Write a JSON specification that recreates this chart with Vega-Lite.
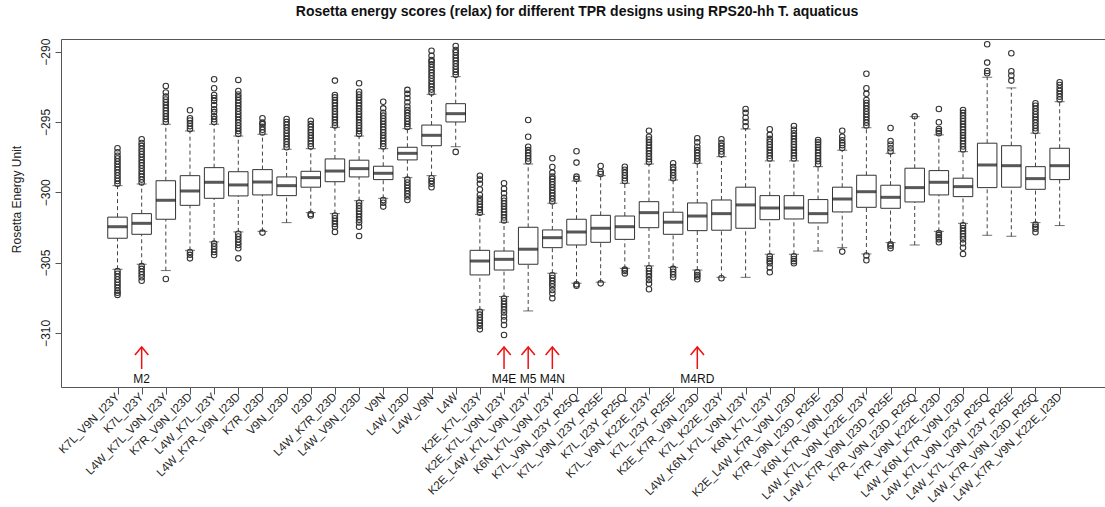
{
  "$schema": "https://vega.github.io/schema/vega-lite/v6.json",
  "width": 1044,
  "height": 348,
  "autosize": {"type": "none"},
  "padding": {"left": 61, "top": 39, "right": 0, "bottom": 120},
  "background": "white",
  "title": {"text": "Rosetta energy scores (relax) for different TPR designs using RPS20-hh T. aquaticus", "fontSize": 14, "fontWeight": "bold", "font": "Liberation Sans", "color": "#111", "anchor": "middle", "dx": -6, "offset": 19},
  "config": {"view": {"stroke": null}, "font": "Liberation Sans"},
  "resolve": {"axis": {"x": "independent", "y": "independent"}},
  "datasets": {
    "boxes": [
      {"i": 1, "name": "K7L_V9N_I23Y", "lo": -305.48, "q1": -303.27, "med": -302.45, "q3": -301.77, "hi": -299.53},
      {"i": 2, "name": "K7L_I23Y", "lo": -305.12, "q1": -302.99, "med": -302.21, "q3": -301.52, "hi": -299.41},
      {"i": 3, "name": "L4W_K7L_V9N_I23Y", "lo": -305.57, "q1": -301.92, "med": -300.57, "q3": -299.18, "hi": -295.16},
      {"i": 4, "name": "K7R_V9N_I23D", "lo": -304.13, "q1": -300.93, "med": -299.91, "q3": -298.82, "hi": -295.64},
      {"i": 5, "name": "L4W_K7L_I23Y", "lo": -303.53, "q1": -300.43, "med": -299.29, "q3": -298.25, "hi": -295.16},
      {"i": 6, "name": "L4W_K7R_V9N_I23D", "lo": -302.82, "q1": -300.26, "med": -299.48, "q3": -298.54, "hi": -296.0},
      {"i": 7, "name": "K7R_I23D", "lo": -302.78, "q1": -300.19, "med": -299.27, "q3": -298.39, "hi": -295.87},
      {"i": 8, "name": "V9N_I23D", "lo": -302.16, "q1": -300.24, "med": -299.53, "q3": -298.91, "hi": -296.94},
      {"i": 9, "name": "I23D", "lo": -301.45, "q1": -299.64, "med": -298.96, "q3": -298.51, "hi": -296.9},
      {"i": 10, "name": "L4W_K7R_I23D", "lo": -301.52, "q1": -299.25, "med": -298.49, "q3": -297.63, "hi": -295.38},
      {"i": 11, "name": "L4W_V9N_I23D", "lo": -300.6, "q1": -298.91, "med": -298.32, "q3": -297.72, "hi": -296.0},
      {"i": 12, "name": "V9N", "lo": -300.43, "q1": -299.1, "med": -298.65, "q3": -298.15, "hi": -296.9},
      {"i": 13, "name": "L4W_I23D", "lo": -298.96, "q1": -297.7, "med": -297.23, "q3": -296.8, "hi": -295.48},
      {"i": 14, "name": "L4W_V9N", "lo": -298.82, "q1": -296.69, "med": -295.95, "q3": -295.22, "hi": -293.03},
      {"i": 15, "name": "L4W", "lo": -296.76, "q1": -295.0, "med": -294.41, "q3": -293.7, "hi": -291.78},
      {"i": 16, "name": "K2E_K7L_I23Y", "lo": -308.37, "q1": -305.88, "med": -304.89, "q3": -304.13, "hi": -301.57},
      {"i": 17, "name": "K2E_K7L_V9N_I23Y", "lo": -307.42, "q1": -305.53, "med": -304.77, "q3": -304.18, "hi": -302.13},
      {"i": 18, "name": "K2E_L4W_K7L_V9N_I23Y", "lo": -308.44, "q1": -305.12, "med": -304.05, "q3": -302.49, "hi": -297.99},
      {"i": 19, "name": "K6N_K7L_V9N_I23Y", "lo": -305.76, "q1": -303.94, "med": -303.23, "q3": -302.68, "hi": -300.78},
      {"i": 20, "name": "K7L_V9N_I23Y_R25Q", "lo": -306.47, "q1": -303.75, "med": -302.82, "q3": -301.92, "hi": -299.2},
      {"i": 21, "name": "K7L_V9N_I23Y_R25E", "lo": -306.4, "q1": -303.56, "med": -302.56, "q3": -301.64, "hi": -298.82},
      {"i": 22, "name": "K7L_I23Y_R25Q", "lo": -305.41, "q1": -303.35, "med": -302.45, "q3": -301.69, "hi": -299.36},
      {"i": 23, "name": "K7L_V9N_K22E_I23Y", "lo": -305.24, "q1": -302.52, "med": -301.45, "q3": -300.67, "hi": -297.99},
      {"i": 24, "name": "K7L_I23Y_R25E", "lo": -305.34, "q1": -302.99, "med": -302.13, "q3": -301.42, "hi": -299.13},
      {"i": 25, "name": "K2E_K7R_V9N_I23D", "lo": -305.53, "q1": -302.73, "med": -301.69, "q3": -300.76, "hi": -297.94},
      {"i": 26, "name": "K7L_K22E_I23Y", "lo": -306.05, "q1": -302.7, "med": -301.52, "q3": -300.55, "hi": -297.47},
      {"i": 27, "name": "L4W_K6N_K7L_V9N_I23Y", "lo": -306.05, "q1": -302.56, "med": -300.9, "q3": -299.64, "hi": -295.5},
      {"i": 28, "name": "K6N_K7L_I23Y", "lo": -304.41, "q1": -301.95, "med": -301.12, "q3": -300.24, "hi": -297.77},
      {"i": 29, "name": "K2E_L4W_K7R_V9N_I23D", "lo": -304.41, "q1": -301.9, "med": -301.12, "q3": -300.24, "hi": -297.77},
      {"i": 30, "name": "K7R_V9N_I23D_R25E", "lo": -304.18, "q1": -302.18, "med": -301.52, "q3": -300.52, "hi": -298.18},
      {"i": 31, "name": "K6N_K7R_V9N_I23D", "lo": -303.94, "q1": -301.4, "med": -300.48, "q3": -299.64, "hi": -297.01},
      {"i": 32, "name": "L4W_K7L_V9N_K22E_I23Y", "lo": -304.39, "q1": -301.07, "med": -299.96, "q3": -298.79, "hi": -295.41},
      {"i": 33, "name": "L4W_K7R_V9N_I23D_R25E", "lo": -303.58, "q1": -301.14, "med": -300.36, "q3": -299.5, "hi": -297.23},
      {"i": 34, "name": "K7R_V9N_I23D_R25Q", "lo": -303.75, "q1": -300.69, "med": -299.67, "q3": -298.29, "hi": -294.62},
      {"i": 35, "name": "K7R_V9N_K22E_I23D", "lo": -302.78, "q1": -300.19, "med": -299.29, "q3": -298.46, "hi": -295.92},
      {"i": 36, "name": "L4W_K6N_K7R_V9N_I23D", "lo": -302.21, "q1": -300.31, "med": -299.6, "q3": -299.0, "hi": -297.11},
      {"i": 37, "name": "L4W_K7L_V9N_I23Y_R25Q", "lo": -303.06, "q1": -299.67, "med": -298.06, "q3": -296.51, "hi": -291.82},
      {"i": 38, "name": "L4W_K7L_V9N_I23Y_R25E", "lo": -303.13, "q1": -299.64, "med": -298.11, "q3": -296.69, "hi": -292.58},
      {"i": 39, "name": "L4W_K7R_V9N_I23D_R25Q", "lo": -302.16, "q1": -299.79, "med": -299.03, "q3": -298.18, "hi": -295.8},
      {"i": 40, "name": "L4W_K7R_V9N_K22E_I23D", "lo": -302.37, "q1": -299.1, "med": -298.11, "q3": -296.87, "hi": -293.56}
    ],
    "outliers": [
      {"n":"K7L_V9N_I23Y","v":-299.4},{"n":"K7L_V9N_I23Y","v":-299.2},{"n":"K7L_V9N_I23Y","v":-299.0},{"n":"K7L_V9N_I23Y","v":-298.8},{"n":"K7L_V9N_I23Y","v":-298.6},{"n":"K7L_V9N_I23Y","v":-298.4},{"n":"K7L_V9N_I23Y","v":-298.2},{"n":"K7L_V9N_I23Y","v":-298.0},{"n":"K7L_V9N_I23Y","v":-297.8},{"n":"K7L_V9N_I23Y","v":-297.6},{"n":"K7L_V9N_I23Y","v":-297.4},{"n":"K7L_V9N_I23Y","v":-297.15},{"n":"K7L_V9N_I23Y","v":-296.87},
      {"n":"K7L_V9N_I23Y","v":-305.6},{"n":"K7L_V9N_I23Y","v":-305.8},{"n":"K7L_V9N_I23Y","v":-306.0},{"n":"K7L_V9N_I23Y","v":-306.2},{"n":"K7L_V9N_I23Y","v":-306.4},{"n":"K7L_V9N_I23Y","v":-306.6},{"n":"K7L_V9N_I23Y","v":-306.8},{"n":"K7L_V9N_I23Y","v":-307.0},{"n":"K7L_V9N_I23Y","v":-307.15},{"n":"K7L_V9N_I23Y","v":-307.3},
      {"n":"K7L_I23Y","v":-299.3},{"n":"K7L_I23Y","v":-299.1},{"n":"K7L_I23Y","v":-298.9},{"n":"K7L_I23Y","v":-298.7},{"n":"K7L_I23Y","v":-298.5},{"n":"K7L_I23Y","v":-298.3},{"n":"K7L_I23Y","v":-298.1},{"n":"K7L_I23Y","v":-297.9},{"n":"K7L_I23Y","v":-297.7},{"n":"K7L_I23Y","v":-297.5},{"n":"K7L_I23Y","v":-297.3},{"n":"K7L_I23Y","v":-297.1},{"n":"K7L_I23Y","v":-296.9},{"n":"K7L_I23Y","v":-296.7},{"n":"K7L_I23Y","v":-296.5},{"n":"K7L_I23Y","v":-296.23},
      {"n":"K7L_I23Y","v":-305.25},{"n":"K7L_I23Y","v":-305.45},{"n":"K7L_I23Y","v":-305.65},{"n":"K7L_I23Y","v":-305.85},{"n":"K7L_I23Y","v":-306.05},{"n":"K7L_I23Y","v":-306.29},
      {"n":"L4W_K7L_V9N_I23Y","v":-295.0},{"n":"L4W_K7L_V9N_I23Y","v":-294.8},{"n":"L4W_K7L_V9N_I23Y","v":-294.6},{"n":"L4W_K7L_V9N_I23Y","v":-294.4},{"n":"L4W_K7L_V9N_I23Y","v":-294.2},{"n":"L4W_K7L_V9N_I23Y","v":-294.0},{"n":"L4W_K7L_V9N_I23Y","v":-293.8},{"n":"L4W_K7L_V9N_I23Y","v":-293.6},{"n":"L4W_K7L_V9N_I23Y","v":-293.4},{"n":"L4W_K7L_V9N_I23Y","v":-293.2},{"n":"L4W_K7L_V9N_I23Y","v":-292.9},{"n":"L4W_K7L_V9N_I23Y","v":-292.44},{"n":"L4W_K7L_V9N_I23Y","v":-306.17},
      {"n":"K7R_V9N_I23D","v":-295.5},{"n":"K7R_V9N_I23D","v":-295.3},{"n":"K7R_V9N_I23D","v":-295.1},{"n":"K7R_V9N_I23D","v":-294.9},{"n":"K7R_V9N_I23D","v":-294.74},{"n":"K7R_V9N_I23D","v":-294.17},{"n":"K7R_V9N_I23D","v":-304.25},{"n":"K7R_V9N_I23D","v":-304.45},{"n":"K7R_V9N_I23D","v":-304.7},
      {"n":"L4W_K7L_I23Y","v":-295.0},{"n":"L4W_K7L_I23Y","v":-294.8},{"n":"L4W_K7L_I23Y","v":-294.6},{"n":"L4W_K7L_I23Y","v":-294.3},{"n":"L4W_K7L_I23Y","v":-294.1},{"n":"L4W_K7L_I23Y","v":-293.8},{"n":"L4W_K7L_I23Y","v":-293.5},{"n":"L4W_K7L_I23Y","v":-293.3},{"n":"L4W_K7L_I23Y","v":-293.08},{"n":"L4W_K7L_I23Y","v":-292.6},{"n":"L4W_K7L_I23Y","v":-291.96},
      {"n":"L4W_K7L_I23Y","v":-303.65},{"n":"L4W_K7L_I23Y","v":-303.85},{"n":"L4W_K7L_I23Y","v":-304.05},{"n":"L4W_K7L_I23Y","v":-304.25},{"n":"L4W_K7L_I23Y","v":-304.46},
      {"n":"L4W_K7R_V9N_I23D","v":-295.85},{"n":"L4W_K7R_V9N_I23D","v":-295.65},{"n":"L4W_K7R_V9N_I23D","v":-295.45},{"n":"L4W_K7R_V9N_I23D","v":-295.25},{"n":"L4W_K7R_V9N_I23D","v":-295.05},{"n":"L4W_K7R_V9N_I23D","v":-294.85},{"n":"L4W_K7R_V9N_I23D","v":-294.65},{"n":"L4W_K7R_V9N_I23D","v":-294.45},{"n":"L4W_K7R_V9N_I23D","v":-294.25},{"n":"L4W_K7R_V9N_I23D","v":-294.05},{"n":"L4W_K7R_V9N_I23D","v":-293.85},{"n":"L4W_K7R_V9N_I23D","v":-293.65},{"n":"L4W_K7R_V9N_I23D","v":-293.45},{"n":"L4W_K7R_V9N_I23D","v":-293.25},{"n":"L4W_K7R_V9N_I23D","v":-293.05},{"n":"L4W_K7R_V9N_I23D","v":-292.8},{"n":"L4W_K7R_V9N_I23D","v":-292.01},
      {"n":"L4W_K7R_V9N_I23D","v":-302.95},{"n":"L4W_K7R_V9N_I23D","v":-303.15},{"n":"L4W_K7R_V9N_I23D","v":-303.35},{"n":"L4W_K7R_V9N_I23D","v":-303.55},{"n":"L4W_K7R_V9N_I23D","v":-303.75},{"n":"L4W_K7R_V9N_I23D","v":-303.98},{"n":"L4W_K7R_V9N_I23D","v":-304.7},
      {"n":"K7R_I23D","v":-295.75},{"n":"K7R_I23D","v":-295.55},{"n":"K7R_I23D","v":-295.35},{"n":"K7R_I23D","v":-295.15},{"n":"K7R_I23D","v":-295.05},{"n":"K7R_I23D","v":-294.74},{"n":"K7R_I23D","v":-302.87},
      {"n":"V9N_I23D","v":-296.8},{"n":"V9N_I23D","v":-296.6},{"n":"V9N_I23D","v":-296.4},{"n":"V9N_I23D","v":-296.2},{"n":"V9N_I23D","v":-296.0},{"n":"V9N_I23D","v":-295.8},{"n":"V9N_I23D","v":-295.6},{"n":"V9N_I23D","v":-295.4},{"n":"V9N_I23D","v":-295.2},{"n":"V9N_I23D","v":-295.0},{"n":"V9N_I23D","v":-294.79},
      {"n":"I23D","v":-296.75},{"n":"I23D","v":-296.55},{"n":"I23D","v":-296.35},{"n":"I23D","v":-296.15},{"n":"I23D","v":-295.95},{"n":"I23D","v":-295.75},{"n":"I23D","v":-295.55},{"n":"I23D","v":-295.35},{"n":"I23D","v":-295.15},{"n":"I23D","v":-294.91},{"n":"I23D","v":-301.55},{"n":"I23D","v":-301.65},
      {"n":"L4W_K7R_I23D","v":-295.25},{"n":"L4W_K7R_I23D","v":-295.05},{"n":"L4W_K7R_I23D","v":-294.85},{"n":"L4W_K7R_I23D","v":-294.65},{"n":"L4W_K7R_I23D","v":-294.45},{"n":"L4W_K7R_I23D","v":-294.25},{"n":"L4W_K7R_I23D","v":-294.05},{"n":"L4W_K7R_I23D","v":-293.85},{"n":"L4W_K7R_I23D","v":-293.65},{"n":"L4W_K7R_I23D","v":-293.45},{"n":"L4W_K7R_I23D","v":-293.25},{"n":"L4W_K7R_I23D","v":-293.08},{"n":"L4W_K7R_I23D","v":-292.06},
      {"n":"L4W_K7R_I23D","v":-301.65},{"n":"L4W_K7R_I23D","v":-301.85},{"n":"L4W_K7R_I23D","v":-302.05},{"n":"L4W_K7R_I23D","v":-302.25},{"n":"L4W_K7R_I23D","v":-302.45},{"n":"L4W_K7R_I23D","v":-302.82},
      {"n":"L4W_V9N_I23D","v":-295.85},{"n":"L4W_V9N_I23D","v":-295.65},{"n":"L4W_V9N_I23D","v":-295.45},{"n":"L4W_V9N_I23D","v":-295.25},{"n":"L4W_V9N_I23D","v":-295.05},{"n":"L4W_V9N_I23D","v":-294.85},{"n":"L4W_V9N_I23D","v":-294.65},{"n":"L4W_V9N_I23D","v":-294.45},{"n":"L4W_V9N_I23D","v":-294.25},{"n":"L4W_V9N_I23D","v":-294.05},{"n":"L4W_V9N_I23D","v":-293.85},{"n":"L4W_V9N_I23D","v":-293.65},{"n":"L4W_V9N_I23D","v":-293.45},{"n":"L4W_V9N_I23D","v":-293.25},{"n":"L4W_V9N_I23D","v":-293.05},{"n":"L4W_V9N_I23D","v":-292.85},{"n":"L4W_V9N_I23D","v":-292.25},
      {"n":"L4W_V9N_I23D","v":-300.75},{"n":"L4W_V9N_I23D","v":-300.95},{"n":"L4W_V9N_I23D","v":-301.15},{"n":"L4W_V9N_I23D","v":-301.35},{"n":"L4W_V9N_I23D","v":-301.55},{"n":"L4W_V9N_I23D","v":-301.75},{"n":"L4W_V9N_I23D","v":-301.95},{"n":"L4W_V9N_I23D","v":-302.15},{"n":"L4W_V9N_I23D","v":-302.45},{"n":"L4W_V9N_I23D","v":-303.11},
      {"n":"V9N","v":-296.75},{"n":"V9N","v":-296.55},{"n":"V9N","v":-296.35},{"n":"V9N","v":-296.15},{"n":"V9N","v":-295.95},{"n":"V9N","v":-295.75},{"n":"V9N","v":-295.55},{"n":"V9N","v":-295.35},{"n":"V9N","v":-295.15},{"n":"V9N","v":-294.95},{"n":"V9N","v":-294.75},{"n":"V9N","v":-294.55},{"n":"V9N","v":-294.35},{"n":"V9N","v":-294.03},{"n":"V9N","v":-293.56},{"n":"V9N","v":-300.55},{"n":"V9N","v":-300.75},{"n":"V9N","v":-301.02},
      {"n":"L4W_I23D","v":-295.35},{"n":"L4W_I23D","v":-295.15},{"n":"L4W_I23D","v":-294.95},{"n":"L4W_I23D","v":-294.75},{"n":"L4W_I23D","v":-294.55},{"n":"L4W_I23D","v":-294.35},{"n":"L4W_I23D","v":-294.15},{"n":"L4W_I23D","v":-293.9},{"n":"L4W_I23D","v":-293.6},{"n":"L4W_I23D","v":-293.3},{"n":"L4W_I23D","v":-293.0},{"n":"L4W_I23D","v":-292.72},
      {"n":"L4W_I23D","v":-299.1},{"n":"L4W_I23D","v":-299.3},{"n":"L4W_I23D","v":-299.5},{"n":"L4W_I23D","v":-299.7},{"n":"L4W_I23D","v":-299.9},{"n":"L4W_I23D","v":-300.1},{"n":"L4W_I23D","v":-300.3},{"n":"L4W_I23D","v":-300.55},
      {"n":"L4W_V9N","v":-292.9},{"n":"L4W_V9N","v":-292.7},{"n":"L4W_V9N","v":-292.5},{"n":"L4W_V9N","v":-292.3},{"n":"L4W_V9N","v":-292.1},{"n":"L4W_V9N","v":-291.9},{"n":"L4W_V9N","v":-291.7},{"n":"L4W_V9N","v":-291.5},{"n":"L4W_V9N","v":-291.3},{"n":"L4W_V9N","v":-291.1},{"n":"L4W_V9N","v":-290.9},{"n":"L4W_V9N","v":-290.7},{"n":"L4W_V9N","v":-290.59},{"n":"L4W_V9N","v":-290.3},{"n":"L4W_V9N","v":-289.93},
      {"n":"L4W_V9N","v":-299.0},{"n":"L4W_V9N","v":-299.2},{"n":"L4W_V9N","v":-299.4},{"n":"L4W_V9N","v":-299.64},
      {"n":"L4W","v":-291.65},{"n":"L4W","v":-291.45},{"n":"L4W","v":-291.25},{"n":"L4W","v":-291.05},{"n":"L4W","v":-290.85},{"n":"L4W","v":-290.65},{"n":"L4W","v":-290.45},{"n":"L4W","v":-290.25},{"n":"L4W","v":-290.05},{"n":"L4W","v":-289.88},{"n":"L4W","v":-289.6},{"n":"L4W","v":-297.13},
      {"n":"K2E_K7L_I23Y","v":-301.45},{"n":"K2E_K7L_I23Y","v":-301.25},{"n":"K2E_K7L_I23Y","v":-301.05},{"n":"K2E_K7L_I23Y","v":-300.85},{"n":"K2E_K7L_I23Y","v":-300.65},{"n":"K2E_K7L_I23Y","v":-300.45},{"n":"K2E_K7L_I23Y","v":-300.19},{"n":"K2E_K7L_I23Y","v":-299.8},{"n":"K2E_K7L_I23Y","v":-299.4},{"n":"K2E_K7L_I23Y","v":-299.1},{"n":"K2E_K7L_I23Y","v":-298.82},
      {"n":"K2E_K7L_I23Y","v":-308.5},{"n":"K2E_K7L_I23Y","v":-308.7},{"n":"K2E_K7L_I23Y","v":-308.9},{"n":"K2E_K7L_I23Y","v":-309.1},{"n":"K2E_K7L_I23Y","v":-309.3},{"n":"K2E_K7L_I23Y","v":-309.5},{"n":"K2E_K7L_I23Y","v":-309.75},
      {"n":"K2E_K7L_V9N_I23Y","v":-302.0},{"n":"K2E_K7L_V9N_I23Y","v":-301.8},{"n":"K2E_K7L_V9N_I23Y","v":-301.6},{"n":"K2E_K7L_V9N_I23Y","v":-301.4},{"n":"K2E_K7L_V9N_I23Y","v":-301.2},{"n":"K2E_K7L_V9N_I23Y","v":-301.0},{"n":"K2E_K7L_V9N_I23Y","v":-300.8},{"n":"K2E_K7L_V9N_I23Y","v":-300.6},{"n":"K2E_K7L_V9N_I23Y","v":-300.4},{"n":"K2E_K7L_V9N_I23Y","v":-300.07},{"n":"K2E_K7L_V9N_I23Y","v":-299.75},{"n":"K2E_K7L_V9N_I23Y","v":-299.36},
      {"n":"K2E_K7L_V9N_I23Y","v":-307.55},{"n":"K2E_K7L_V9N_I23Y","v":-307.75},{"n":"K2E_K7L_V9N_I23Y","v":-307.95},{"n":"K2E_K7L_V9N_I23Y","v":-308.15},{"n":"K2E_K7L_V9N_I23Y","v":-308.35},{"n":"K2E_K7L_V9N_I23Y","v":-308.55},{"n":"K2E_K7L_V9N_I23Y","v":-308.84},{"n":"K2E_K7L_V9N_I23Y","v":-309.1},{"n":"K2E_K7L_V9N_I23Y","v":-309.44},{"n":"K2E_K7L_V9N_I23Y","v":-310.15},
      {"n":"K2E_L4W_K7L_V9N_I23Y","v":-297.8},{"n":"K2E_L4W_K7L_V9N_I23Y","v":-297.6},{"n":"K2E_L4W_K7L_V9N_I23Y","v":-297.4},{"n":"K2E_L4W_K7L_V9N_I23Y","v":-297.2},{"n":"K2E_L4W_K7L_V9N_I23Y","v":-297.0},{"n":"K2E_L4W_K7L_V9N_I23Y","v":-296.76},{"n":"K2E_L4W_K7L_V9N_I23Y","v":-296.05},{"n":"K2E_L4W_K7L_V9N_I23Y","v":-294.86},
      {"n":"K6N_K7L_V9N_I23Y","v":-300.65},{"n":"K6N_K7L_V9N_I23Y","v":-300.45},{"n":"K6N_K7L_V9N_I23Y","v":-300.25},{"n":"K6N_K7L_V9N_I23Y","v":-300.05},{"n":"K6N_K7L_V9N_I23Y","v":-299.85},{"n":"K6N_K7L_V9N_I23Y","v":-299.65},{"n":"K6N_K7L_V9N_I23Y","v":-299.45},{"n":"K6N_K7L_V9N_I23Y","v":-299.25},{"n":"K6N_K7L_V9N_I23Y","v":-299.05},{"n":"K6N_K7L_V9N_I23Y","v":-298.89},{"n":"K6N_K7L_V9N_I23Y","v":-298.6},{"n":"K6N_K7L_V9N_I23Y","v":-298.2},{"n":"K6N_K7L_V9N_I23Y","v":-297.58},
      {"n":"K6N_K7L_V9N_I23Y","v":-305.9},{"n":"K6N_K7L_V9N_I23Y","v":-306.1},{"n":"K6N_K7L_V9N_I23Y","v":-306.3},{"n":"K6N_K7L_V9N_I23Y","v":-306.5},{"n":"K6N_K7L_V9N_I23Y","v":-306.7},{"n":"K6N_K7L_V9N_I23Y","v":-306.95},{"n":"K6N_K7L_V9N_I23Y","v":-307.2},{"n":"K6N_K7L_V9N_I23Y","v":-307.54},
      {"n":"K7L_V9N_I23Y_R25Q","v":-299.05},{"n":"K7L_V9N_I23Y_R25Q","v":-298.89},{"n":"K7L_V9N_I23Y_R25Q","v":-297.89},{"n":"K7L_V9N_I23Y_R25Q","v":-297.08},{"n":"K7L_V9N_I23Y_R25Q","v":-306.55},{"n":"K7L_V9N_I23Y_R25Q","v":-306.65},
      {"n":"K7L_V9N_I23Y_R25E","v":-298.7},{"n":"K7L_V9N_I23Y_R25E","v":-298.54},{"n":"K7L_V9N_I23Y_R25E","v":-298.13},{"n":"K7L_V9N_I23Y_R25E","v":-306.48},
      {"n":"K7L_I23Y_R25Q","v":-299.2},{"n":"K7L_I23Y_R25Q","v":-299.0},{"n":"K7L_I23Y_R25Q","v":-298.8},{"n":"K7L_I23Y_R25Q","v":-298.6},{"n":"K7L_I23Y_R25Q","v":-298.4},{"n":"K7L_I23Y_R25Q","v":-298.18},{"n":"K7L_I23Y_R25Q","v":-305.5},{"n":"K7L_I23Y_R25Q","v":-305.6},{"n":"K7L_I23Y_R25Q","v":-305.77},
      {"n":"K7L_V9N_K22E_I23Y","v":-297.85},{"n":"K7L_V9N_K22E_I23Y","v":-297.65},{"n":"K7L_V9N_K22E_I23Y","v":-297.45},{"n":"K7L_V9N_K22E_I23Y","v":-297.25},{"n":"K7L_V9N_K22E_I23Y","v":-297.05},{"n":"K7L_V9N_K22E_I23Y","v":-296.85},{"n":"K7L_V9N_K22E_I23Y","v":-296.65},{"n":"K7L_V9N_K22E_I23Y","v":-296.45},{"n":"K7L_V9N_K22E_I23Y","v":-296.25},{"n":"K7L_V9N_K22E_I23Y","v":-296.05},{"n":"K7L_V9N_K22E_I23Y","v":-295.62},
      {"n":"K7L_V9N_K22E_I23Y","v":-305.4},{"n":"K7L_V9N_K22E_I23Y","v":-305.6},{"n":"K7L_V9N_K22E_I23Y","v":-305.8},{"n":"K7L_V9N_K22E_I23Y","v":-306.0},{"n":"K7L_V9N_K22E_I23Y","v":-306.24},{"n":"K7L_V9N_K22E_I23Y","v":-306.5},{"n":"K7L_V9N_K22E_I23Y","v":-306.9},
      {"n":"K7L_I23Y_R25E","v":-299.0},{"n":"K7L_I23Y_R25E","v":-298.8},{"n":"K7L_I23Y_R25E","v":-298.6},{"n":"K7L_I23Y_R25E","v":-298.4},{"n":"K7L_I23Y_R25E","v":-298.2},{"n":"K7L_I23Y_R25E","v":-297.94},{"n":"K7L_I23Y_R25E","v":-305.45},{"n":"K7L_I23Y_R25E","v":-305.65},{"n":"K7L_I23Y_R25E","v":-305.85},{"n":"K7L_I23Y_R25E","v":-306.05},
      {"n":"K2E_K7R_V9N_I23D","v":-297.8},{"n":"K2E_K7R_V9N_I23D","v":-297.6},{"n":"K2E_K7R_V9N_I23D","v":-297.4},{"n":"K2E_K7R_V9N_I23D","v":-297.2},{"n":"K2E_K7R_V9N_I23D","v":-297.0},{"n":"K2E_K7R_V9N_I23D","v":-296.76},{"n":"K2E_K7R_V9N_I23D","v":-296.45},{"n":"K2E_K7R_V9N_I23D","v":-296.16},{"n":"K2E_K7R_V9N_I23D","v":-305.7},{"n":"K2E_K7R_V9N_I23D","v":-305.88},{"n":"K2E_K7R_V9N_I23D","v":-306.0},{"n":"K2E_K7R_V9N_I23D","v":-306.19},
      {"n":"K7L_K22E_I23Y","v":-297.3},{"n":"K7L_K22E_I23Y","v":-297.1},{"n":"K7L_K22E_I23Y","v":-296.9},{"n":"K7L_K22E_I23Y","v":-296.7},{"n":"K7L_K22E_I23Y","v":-296.5},{"n":"K7L_K22E_I23Y","v":-296.23},{"n":"K7L_K22E_I23Y","v":-306.12},
      {"n":"L4W_K6N_K7L_V9N_I23Y","v":-295.3},{"n":"L4W_K6N_K7L_V9N_I23Y","v":-295.0},{"n":"L4W_K6N_K7L_V9N_I23Y","v":-294.7},{"n":"L4W_K6N_K7L_V9N_I23Y","v":-294.35},{"n":"L4W_K6N_K7L_V9N_I23Y","v":-294.08},
      {"n":"K6N_K7L_I23Y","v":-297.6},{"n":"K6N_K7L_I23Y","v":-297.4},{"n":"K6N_K7L_I23Y","v":-297.2},{"n":"K6N_K7L_I23Y","v":-297.0},{"n":"K6N_K7L_I23Y","v":-296.8},{"n":"K6N_K7L_I23Y","v":-296.6},{"n":"K6N_K7L_I23Y","v":-296.4},{"n":"K6N_K7L_I23Y","v":-296.2},{"n":"K6N_K7L_I23Y","v":-295.92},{"n":"K6N_K7L_I23Y","v":-295.52},{"n":"K6N_K7L_I23Y","v":-304.55},{"n":"K6N_K7L_I23Y","v":-304.75},{"n":"K6N_K7L_I23Y","v":-304.9},{"n":"K6N_K7L_I23Y","v":-305.05},{"n":"K6N_K7L_I23Y","v":-305.35},{"n":"K6N_K7L_I23Y","v":-305.69},
      {"n":"K2E_L4W_K7R_V9N_I23D","v":-297.6},{"n":"K2E_L4W_K7R_V9N_I23D","v":-297.4},{"n":"K2E_L4W_K7R_V9N_I23D","v":-297.2},{"n":"K2E_L4W_K7R_V9N_I23D","v":-297.0},{"n":"K2E_L4W_K7R_V9N_I23D","v":-296.8},{"n":"K2E_L4W_K7R_V9N_I23D","v":-296.6},{"n":"K2E_L4W_K7R_V9N_I23D","v":-296.4},{"n":"K2E_L4W_K7R_V9N_I23D","v":-296.2},{"n":"K2E_L4W_K7R_V9N_I23D","v":-296.0},{"n":"K2E_L4W_K7R_V9N_I23D","v":-295.8},{"n":"K2E_L4W_K7R_V9N_I23D","v":-295.55},{"n":"K2E_L4W_K7R_V9N_I23D","v":-295.29},{"n":"K2E_L4W_K7R_V9N_I23D","v":-304.55},{"n":"K2E_L4W_K7R_V9N_I23D","v":-304.75},{"n":"K2E_L4W_K7R_V9N_I23D","v":-304.9},{"n":"K2E_L4W_K7R_V9N_I23D","v":-305.05},
      {"n":"K7R_V9N_I23D_R25E","v":-298.0},{"n":"K7R_V9N_I23D_R25E","v":-297.8},{"n":"K7R_V9N_I23D_R25E","v":-297.6},{"n":"K7R_V9N_I23D_R25E","v":-297.4},{"n":"K7R_V9N_I23D_R25E","v":-297.2},{"n":"K7R_V9N_I23D_R25E","v":-297.0},{"n":"K7R_V9N_I23D_R25E","v":-296.8},{"n":"K7R_V9N_I23D_R25E","v":-296.6},{"n":"K7R_V9N_I23D_R25E","v":-296.45},{"n":"K7R_V9N_I23D_R25E","v":-296.28},
      {"n":"K6N_K7R_V9N_I23D","v":-296.85},{"n":"K6N_K7R_V9N_I23D","v":-296.65},{"n":"K6N_K7R_V9N_I23D","v":-296.5},{"n":"K6N_K7R_V9N_I23D","v":-296.3},{"n":"K6N_K7R_V9N_I23D","v":-296.05},{"n":"K6N_K7R_V9N_I23D","v":-295.62},{"n":"K6N_K7R_V9N_I23D","v":-304.22},
      {"n":"L4W_K7L_V9N_K22E_I23Y","v":-295.25},{"n":"L4W_K7L_V9N_K22E_I23Y","v":-295.05},{"n":"L4W_K7L_V9N_K22E_I23Y","v":-294.85},{"n":"L4W_K7L_V9N_K22E_I23Y","v":-294.65},{"n":"L4W_K7L_V9N_K22E_I23Y","v":-294.45},{"n":"L4W_K7L_V9N_K22E_I23Y","v":-294.25},{"n":"L4W_K7L_V9N_K22E_I23Y","v":-294.05},{"n":"L4W_K7L_V9N_K22E_I23Y","v":-293.85},{"n":"L4W_K7L_V9N_K22E_I23Y","v":-293.65},{"n":"L4W_K7L_V9N_K22E_I23Y","v":-293.44},{"n":"L4W_K7L_V9N_K22E_I23Y","v":-293.0},{"n":"L4W_K7L_V9N_K22E_I23Y","v":-292.6},{"n":"L4W_K7L_V9N_K22E_I23Y","v":-291.57},{"n":"L4W_K7L_V9N_K22E_I23Y","v":-304.5},{"n":"L4W_K7L_V9N_K22E_I23Y","v":-304.84},
      {"n":"L4W_K7R_V9N_I23D_R25E","v":-297.1},{"n":"L4W_K7R_V9N_I23D_R25E","v":-296.87},{"n":"L4W_K7R_V9N_I23D_R25E","v":-296.6},{"n":"L4W_K7R_V9N_I23D_R25E","v":-296.35},{"n":"L4W_K7R_V9N_I23D_R25E","v":-295.43},{"n":"L4W_K7R_V9N_I23D_R25E","v":-303.7},{"n":"L4W_K7R_V9N_I23D_R25E","v":-303.8},{"n":"L4W_K7R_V9N_I23D_R25E","v":-303.98},
      {"n":"K7R_V9N_I23D_R25Q","v":-294.6},
      {"n":"K7R_V9N_K22E_I23D","v":-295.8},{"n":"K7R_V9N_K22E_I23D","v":-295.65},{"n":"K7R_V9N_K22E_I23D","v":-295.5},{"n":"K7R_V9N_K22E_I23D","v":-295.02},{"n":"K7R_V9N_K22E_I23D","v":-294.08},{"n":"K7R_V9N_K22E_I23D","v":-302.9},{"n":"K7R_V9N_K22E_I23D","v":-303.05},{"n":"K7R_V9N_K22E_I23D","v":-303.2},{"n":"K7R_V9N_K22E_I23D","v":-303.35},{"n":"K7R_V9N_K22E_I23D","v":-303.56},
      {"n":"L4W_K6N_K7R_V9N_I23D","v":-296.95},{"n":"L4W_K6N_K7R_V9N_I23D","v":-296.75},{"n":"L4W_K6N_K7R_V9N_I23D","v":-296.55},{"n":"L4W_K6N_K7R_V9N_I23D","v":-296.35},{"n":"L4W_K6N_K7R_V9N_I23D","v":-296.15},{"n":"L4W_K6N_K7R_V9N_I23D","v":-295.95},{"n":"L4W_K6N_K7R_V9N_I23D","v":-295.75},{"n":"L4W_K6N_K7R_V9N_I23D","v":-295.55},{"n":"L4W_K6N_K7R_V9N_I23D","v":-295.35},{"n":"L4W_K6N_K7R_V9N_I23D","v":-295.15},{"n":"L4W_K6N_K7R_V9N_I23D","v":-294.95},{"n":"L4W_K6N_K7R_V9N_I23D","v":-294.75},{"n":"L4W_K6N_K7R_V9N_I23D","v":-294.55},{"n":"L4W_K6N_K7R_V9N_I23D","v":-294.35},{"n":"L4W_K6N_K7R_V9N_I23D","v":-294.15},
      {"n":"L4W_K6N_K7R_V9N_I23D","v":-302.35},{"n":"L4W_K6N_K7R_V9N_I23D","v":-302.55},{"n":"L4W_K6N_K7R_V9N_I23D","v":-302.75},{"n":"L4W_K6N_K7R_V9N_I23D","v":-302.95},{"n":"L4W_K6N_K7R_V9N_I23D","v":-303.15},{"n":"L4W_K6N_K7R_V9N_I23D","v":-303.35},{"n":"L4W_K6N_K7R_V9N_I23D","v":-303.63},{"n":"L4W_K6N_K7R_V9N_I23D","v":-303.95},{"n":"L4W_K6N_K7R_V9N_I23D","v":-304.39},
      {"n":"L4W_K7L_V9N_I23Y_R25Q","v":-291.54},{"n":"L4W_K7L_V9N_I23Y_R25Q","v":-291.37},{"n":"L4W_K7L_V9N_I23Y_R25Q","v":-290.78},{"n":"L4W_K7L_V9N_I23Y_R25Q","v":-289.47},
      {"n":"L4W_K7L_V9N_I23Y_R25E","v":-292.06},{"n":"L4W_K7L_V9N_I23Y_R25E","v":-291.7},{"n":"L4W_K7L_V9N_I23Y_R25E","v":-291.39},{"n":"L4W_K7L_V9N_I23Y_R25E","v":-290.11},
      {"n":"L4W_K7R_V9N_I23D_R25Q","v":-295.65},{"n":"L4W_K7R_V9N_I23D_R25Q","v":-295.45},{"n":"L4W_K7R_V9N_I23D_R25Q","v":-295.25},{"n":"L4W_K7R_V9N_I23D_R25Q","v":-295.05},{"n":"L4W_K7R_V9N_I23D_R25Q","v":-294.85},{"n":"L4W_K7R_V9N_I23D_R25Q","v":-294.65},{"n":"L4W_K7R_V9N_I23D_R25Q","v":-294.45},{"n":"L4W_K7R_V9N_I23D_R25Q","v":-294.25},{"n":"L4W_K7R_V9N_I23D_R25Q","v":-294.05},{"n":"L4W_K7R_V9N_I23D_R25Q","v":-293.85},{"n":"L4W_K7R_V9N_I23D_R25Q","v":-293.67},{"n":"L4W_K7R_V9N_I23D_R25Q","v":-302.3},{"n":"L4W_K7R_V9N_I23D_R25Q","v":-302.45},{"n":"L4W_K7R_V9N_I23D_R25Q","v":-302.6},{"n":"L4W_K7R_V9N_I23D_R25Q","v":-302.85},
      {"n":"L4W_K7R_V9N_K22E_I23D","v":-293.4},{"n":"L4W_K7R_V9N_K22E_I23D","v":-293.2},{"n":"L4W_K7R_V9N_K22E_I23D","v":-293.0},{"n":"L4W_K7R_V9N_K22E_I23D","v":-292.8},{"n":"L4W_K7R_V9N_K22E_I23D","v":-292.6},{"n":"L4W_K7R_V9N_K22E_I23D","v":-292.37},{"n":"L4W_K7R_V9N_K22E_I23D","v":-292.18}
    ],
    "arrows": [
      {"i": 2, "label": "M2"},
      {"i": 17, "label": "M4E"},
      {"i": 18, "label": "M5"},
      {"i": 19, "label": "M4N"},
      {"i": 25, "label": "M4RD"}
    ]
  },
  "layer": [
    {
      "data": {"name": "boxes"},
      "mark": {"type": "rule", "strokeDash": [4, 3], "color": "#444", "strokeWidth": 1},
      "encoding": {
        "x": {"field": "i", "type": "quantitative",
          "scale": {"domain": [-1.132, 41.67], "nice": false, "zero": false},
          "axis": {"orient": "bottom", "title": null, "values": [1,2,3,4,5,6,7,8,9,10,11,12,13,14,15,16,17,18,19,20,21,22,23,24,25,26,27,28,29,30,31,32,33,34,35,36,37,38,39,40],
            "labelExpr": "['K7L_V9N_I23Y','K7L_I23Y','L4W_K7L_V9N_I23Y','K7R_V9N_I23D','L4W_K7L_I23Y','L4W_K7R_V9N_I23D','K7R_I23D','V9N_I23D','I23D','L4W_K7R_I23D','L4W_V9N_I23D','V9N','L4W_I23D','L4W_V9N','L4W','K2E_K7L_I23Y','K2E_K7L_V9N_I23Y','K2E_L4W_K7L_V9N_I23Y','K6N_K7L_V9N_I23Y','K7L_V9N_I23Y_R25Q','K7L_V9N_I23Y_R25E','K7L_I23Y_R25Q','K7L_V9N_K22E_I23Y','K7L_I23Y_R25E','K2E_K7R_V9N_I23D','K7L_K22E_I23Y','L4W_K6N_K7L_V9N_I23Y','K6N_K7L_I23Y','K2E_L4W_K7R_V9N_I23D','K7R_V9N_I23D_R25E','K6N_K7R_V9N_I23D','L4W_K7L_V9N_K22E_I23Y','L4W_K7R_V9N_I23D_R25E','K7R_V9N_I23D_R25Q','K7R_V9N_K22E_I23D','L4W_K6N_K7R_V9N_I23D','L4W_K7L_V9N_I23Y_R25Q','L4W_K7L_V9N_I23Y_R25E','L4W_K7R_V9N_I23D_R25Q','L4W_K7R_V9N_K22E_I23D'][datum.value - 1]",
            "labelAngle": -45, "labelAlign": "right", "labelBaseline": "middle", "labelFontSize": 11.6, "labelColor": "#222", "labelFont": "Liberation Sans", "tickSize": 7, "tickColor": "#555", "domainColor": "#555", "labelPadding": 1, "labelOverlap": false, "labelLimit": 0, "labelFlush": false, "grid": false}
        },
        "y": {"field": "lo", "type": "quantitative",
          "scale": {"domain": [-313.85, -289.1], "nice": false, "zero": false},
          "axis": {"orient": "left", "title": "Rosetta Energy Unit", "values": [-310, -305, -300, -295, -290], "labelAngle": 270, "labelAlign": "center", "labelBaseline": "bottom", "labelFontSize": 12, "labelColor": "#222", "labelFont": "Liberation Sans", "labelFlush": false, "tickSize": 6, "tickColor": "#555", "domainColor": "#555", "labelPadding": 3, "grid": false, "titleFontSize": 12, "titleFontWeight": "normal", "titleColor": "#222", "titleFont": "Liberation Sans", "titleAngle": 270, "titleBaseline": "bottom", "titleAlign": "center", "titleX": -38, "titleY": 160}
        },
        "y2": {"field": "q1"}
      }
    },
    {
      "data": {"name": "boxes"},
      "mark": {"type": "rule", "strokeDash": [4, 3], "color": "#444", "strokeWidth": 1},
      "encoding": {
        "x": {"field": "i", "type": "quantitative", "axis": null},
        "y": {"field": "q3", "type": "quantitative", "axis": null},
        "y2": {"field": "hi"}
      }
    },
    {
      "data": {"name": "boxes"},
      "mark": {"type": "tick", "orient": "horizontal", "size": 10, "thickness": 1, "color": "#333"},
      "encoding": {
        "x": {"field": "i", "type": "quantitative", "axis": null},
        "y": {"field": "lo", "type": "quantitative", "axis": null}
      }
    },
    {
      "data": {"name": "boxes"},
      "mark": {"type": "tick", "orient": "horizontal", "size": 10, "thickness": 1, "color": "#333"},
      "encoding": {
        "x": {"field": "i", "type": "quantitative", "axis": null},
        "y": {"field": "hi", "type": "quantitative", "axis": null}
      }
    },
    {
      "data": {"name": "boxes"},
      "mark": {"type": "bar", "fill": "white", "stroke": "#333", "strokeWidth": 1, "width": 19.5, "orient": "vertical"},
      "encoding": {
        "x": {"field": "i", "type": "quantitative", "axis": null},
        "y": {"field": "q1", "type": "quantitative", "axis": null},
        "y2": {"field": "q3"}
      }
    },
    {
      "data": {"name": "boxes"},
      "mark": {"type": "tick", "orient": "horizontal", "size": 19.5, "thickness": 3, "color": "#111"},
      "encoding": {
        "x": {"field": "i", "type": "quantitative", "axis": null},
        "y": {"field": "med", "type": "quantitative", "axis": null}
      }
    },
    {
      "data": {"name": "outliers"},
      "transform": [{"lookup": "n", "from": {"data": {"name": "boxes"}, "key": "name", "fields": ["i"]}}],
      "mark": {"type": "point", "shape": "circle", "filled": false, "size": 30, "stroke": "#333", "strokeWidth": 1.1, "opacity": 1},
      "encoding": {
        "x": {"field": "i", "type": "quantitative", "axis": {"orient": "top", "labels": false, "ticks": false, "title": null, "domainColor": "#555", "grid": false}},
        "y": {"field": "v", "type": "quantitative", "axis": null}
      }
    },
    {
      "data": {"name": "arrows"},
      "mark": {"type": "rule", "color": "#ee1111", "strokeWidth": 1.5},
      "encoding": {
        "x": {"field": "i", "type": "quantitative", "axis": null},
        "y": {"datum": -311.0, "type": "quantitative", "axis": null},
        "y2": {"datum": -312.57}
      }
    },
    {
      "data": {"name": "arrows"},
      "mark": {"type": "point", "shape": "M-1,1.2L0,0L1,1.2", "filled": false, "size": 180, "stroke": "#ee1111", "strokeWidth": 1.5, "opacity": 1},
      "encoding": {
        "x": {"field": "i", "type": "quantitative", "axis": null},
        "y": {"datum": -311.0, "type": "quantitative", "axis": null}
      }
    },
    {
      "data": {"name": "arrows"},
      "mark": {"type": "text", "fontSize": 12, "color": "#111", "font": "Liberation Sans", "align": "center", "baseline": "middle"},
      "encoding": {
        "x": {"field": "i", "type": "quantitative", "axis": null},
        "y": {"datum": -313.3, "type": "quantitative", "axis": null},
        "text": {"field": "label"}
      }
    }
  ]
}
